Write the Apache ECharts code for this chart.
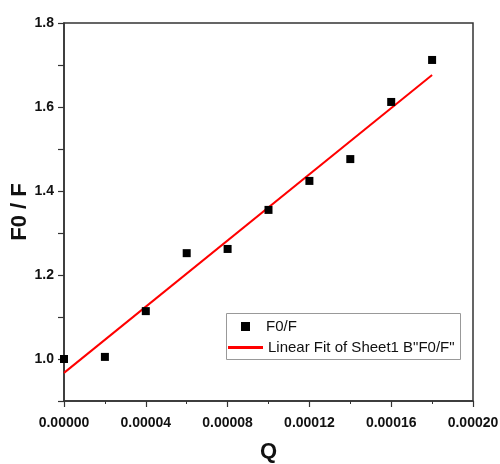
<!DOCTYPE html>
<html>
<head>
<meta charset="utf-8">
<script src="https://cdn.jsdelivr.net/npm/echarts@6/dist/echarts.min.js"></script>
<style>
html,body{margin:0;padding:0;background:#fff;}
#chart{width:500px;height:464px;}
</style>
</head>
<body>
<div id="chart"></div>
<script>
var qVals=[0,0.00002,0.00004,0.00006,0.00008,0.0001,0.00012,0.00014,0.00016,0.00018];
var ratioVals=[1.0,1.005,1.114,1.252,1.262,1.355,1.424,1.476,1.612,1.712];
var fitX=[0,0.00018];
var fitY=[0.967,1.676];

var points=[],fitLine=[];
for(var i=0;i<qVals.length;i++){
    points.push([qVals[i],ratioVals[i]]);
}
for(var i=0;i<fitX.length;i++){
    fitLine.push([fitX[i],fitY[i]]);
}

var myChart=echarts.init(document.getElementById("chart"));
var option={
    animation:false,
    grid:{
        left:64,right:27,top:23,bottom:63,
        outerBoundsMode:'none',
        show:true,borderColor:'#333',borderWidth:1.5
    },
    legend:[
        {
            data:[{name:'F0/F',icon:'rect'}],
            left:236,top:314,
            itemWidth:9,itemHeight:9,itemGap:0,
            itemStyle:{opacity:1},
            textStyle:{fontFamily:'Liberation Sans',fontSize:15,color:'#111',padding:[0,0,0,11]}
        },
        {
            data:[{name:'Linear Fit of Sheet1 B"F0/F"',icon:'rect'}],
            left:223,top:335,
            itemWidth:35,itemHeight:3,
            textStyle:{fontFamily:'Liberation Sans',fontSize:15,color:'#111'}
        }
    ],
    graphic:[{
        type:'rect',
        shape:{x:226.5,y:313.5,width:234,height:46},
        style:{fill:'none',stroke:'#999',lineWidth:1},
        z:-1
    }],
    xAxis:{
        type:'value',
        min:0,max:0.0002,interval:0.00004,
        name:'Q',nameLocation:'middle',nameGap:40,
        nameTextStyle:{fontFamily:'Liberation Sans',fontWeight:'bold',fontSize:22,color:'#111'},
        axisLine:{lineStyle:{color:'#333',width:1.5}},
        axisTick:{length:6,lineStyle:{color:'#333',width:1.2}},
        minorTick:{show:true,splitNumber:2,length:3,lineStyle:{color:'#333'}},
        splitLine:{show:false},
        axisLabel:{
            margin:15,fontFamily:'Liberation Sans',fontWeight:'bold',fontSize:14,color:'#111',
            formatter:function(v){return v.toFixed(5);}
        }
    },
    yAxis:{
        type:'value',
        min:0.9,max:1.8,interval:0.1,
        name:'F0 / F',nameLocation:'middle',nameGap:33,nameMoveOverlap:false,
        nameTextStyle:{fontFamily:'Liberation Sans',fontWeight:'bold',fontSize:22,color:'#111'},
        axisLine:{lineStyle:{color:'#333',width:1.5}},
        axisTick:{length:6,lineStyle:{color:'#333',width:1.2}},
        splitLine:{show:false},
        axisLabel:{
            margin:10,fontFamily:'Liberation Sans',fontWeight:'bold',fontSize:14,color:'#111',
            formatter:function(v){
                var t=Math.round(v*10);
                return (t%2===0)?(t/10).toFixed(1):'';
            }
        }
    },
    series:[
        {
            name:'F0/F',
            type:'scatter',
            data:points,
            symbol:'rect',
            symbolSize:8,
            itemStyle:{color:'#000',opacity:1},
            z:3
        },
        {
            name:'Linear Fit of Sheet1 B"F0/F"',
            type:'line',
            data:fitLine,
            showSymbol:false,
            lineStyle:{color:'#ff0000',width:2},
            itemStyle:{color:'#ff0000'},
            z:2
        }
    ]
};
myChart.setOption(option);
</script>
</body>
</html>
